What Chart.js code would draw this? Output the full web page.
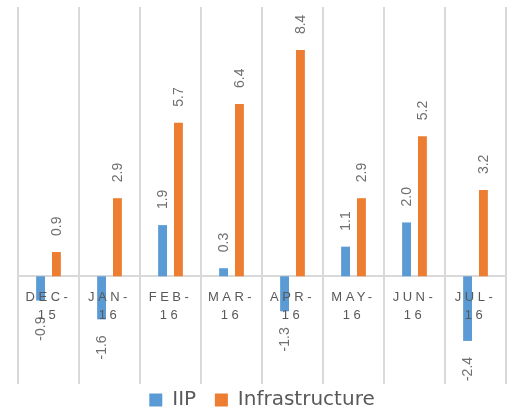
<!DOCTYPE html>
<html>
<head>
<meta charset="utf-8">
<script src="https://cdn.jsdelivr.net/npm/chart.js@4"></script>
<style>
  html, body { margin: 0; padding: 0; background: #fff; overflow: hidden; }
  #chart { display: block; }
</style>
</head>
<body>
<canvas id="chart" width="516" height="420"></canvas>
<script>
const months = [['DEC-', '15'], ['JAN-', '16'], ['FEB-', '16'], ['MAR-', '16'],
                ['APR-', '16'], ['MAY-', '16'], ['JUN-', '16'], ['JUL-', '16']];
const iip = [-0.9, -1.6, 1.9, 0.3, -1.3, 1.1, 2.0, -2.4];
const infrastructure = [0.9, 2.9, 5.7, 6.4, 8.4, 2.9, 5.2, 3.2];

// value labels drawn rotated, like the spreadsheet original
const barLabels = {
  id: 'barLabels',
  afterDatasetsDraw(chart) {
    const ctx = chart.ctx;
    ctx.save();
    ctx.font = '14px "Liberation Sans", Arial, sans-serif';
    ctx.fillStyle = '#6f6f6f';
    ctx.textBaseline = 'middle';
    chart.data.datasets.forEach((ds, i) => {
      chart.getDatasetMeta(i).data.forEach((bar, j) => {
        const v = ds.data[j];
        ctx.save();
        if (v >= 0) {
          ctx.translate(bar.x + 1, bar.y - 16);
          ctx.rotate(-Math.PI / 2);
          ctx.textAlign = 'left';
        } else {
          ctx.translate(bar.x + 1, bar.y + 16);
          ctx.rotate(-Math.PI / 2);
          ctx.textAlign = 'right';
        }
        ctx.fillText(v.toFixed(1), 0, 0);
        ctx.restore();
      });
    });
    ctx.restore();
    // spaced-out month labels are drawn next (ticks z = 1)
    ctx.letterSpacing = '3.5px';
  },
  afterDraw(chart) {
    chart.ctx.letterSpacing = '0px';
  }
};

new Chart(document.getElementById('chart'), {
  type: 'bar',
  data: {
    labels: months,
    datasets: [
      { label: 'IIP', data: iip, backgroundColor: '#5b9bd5', borderWidth: 0 },
      { label: 'Infrastructure', data: infrastructure, backgroundColor: '#ed7d31', borderWidth: 0 }
    ]
  },
  options: {
    responsive: false,
    animation: false,
    categoryPercentage: 0.52,
    barPercentage: 0.56,
    layout: { padding: { left: 18, right: 10, top: 7, bottom: 0 } },
    scales: {
      x: {
        position: { y: 0 },
        grid: { color: '#d9d9d9', lineWidth: 2, drawTicks: false, offset: true },
        border: { display: true, color: '#d9d9d9', width: 2 },
        ticks: {
          z: 1,
          color: '#595959',
          padding: 12,
          maxRotation: 0,
          autoSkip: false,
          font: { family: '"Liberation Sans", Arial, sans-serif', size: 13, lineHeight: 1.385 }
        }
      },
      y: { display: false, min: -4, max: 10 }
    },
    plugins: {
      tooltip: { enabled: false },
      legend: {
        position: 'bottom',
        labels: {
          boxWidth: 13,
          boxHeight: 13,
          padding: 6,
          color: '#595959',
          font: { family: '"DejaVu Sans", sans-serif', size: 20 },
          generateLabels(chart) {
            const items = Chart.defaults.plugins.legend.labels.generateLabels(chart);
            items[0].text = items[0].text + '  ';
            return items;
          }
        }
      }
    }
  },
  plugins: [barLabels]
});
</script>
</body>
</html>
